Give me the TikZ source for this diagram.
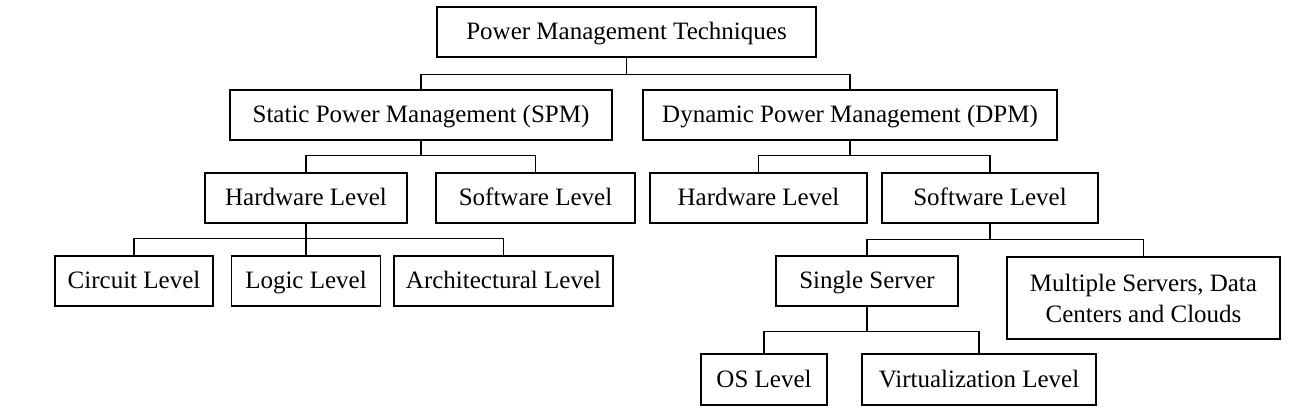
\documentclass[tikz,border=0pt]{standalone}
\usepackage{fontspec}
\setmainfont{Liberation Serif}
\begin{document}
\begin{tikzpicture}[x=1pt,y=-1pt,
    box/.style={draw,line width=1.3pt,inner sep=0pt,minimum height=50pt,
      font=\fontsize{25}{31}\selectfont,align=center},
    onebox/.style={box,text height=19pt,text depth=4pt},
    link/.style={line width=1.3pt}]
  \useasboundingbox (0,0) rectangle (1309,414);

  \node[onebox,minimum width=379pt] (root) at (626.5,32) {Power Management Techniques};

  \node[onebox,minimum width=382pt] (spm) at (421,115) {Static Power Management (SPM)};
  \node[onebox,minimum width=414pt] (dpm) at (850,115) {Dynamic Power Management (DPM)};

  \node[onebox,minimum width=202pt] (spmhw) at (306,198) {Hardware Level};
  \node[onebox,minimum width=199pt] (spmsw) at (535.5,198) {Software Level};
  \node[onebox,minimum width=217pt] (dpmhw) at (758.5,198) {Hardware Level};
  \node[onebox,minimum width=216pt] (dpmsw) at (990,198) {Software Level};

  \node[onebox,minimum width=158pt] (circuit) at (134,281) {Circuit Level};
  \node[onebox,minimum width=149pt] (logic) at (306,281) {Logic Level};
  \node[onebox,minimum width=219pt] (arch) at (503.5,281) {Architectural Level};

  \node[onebox,minimum width=182pt] (single) at (867,281) {Single Server};
  \node[box,minimum width=273pt,minimum height=82pt] (multi) at (1143.5,298)
    {Multiple Servers, Data\\Centers and Clouds};

  \node[onebox,minimum width=126pt,minimum height=51pt] (os) at (764,379.5) {OS Level};
  \node[onebox,minimum width=234pt,minimum height=51pt] (virt) at (979,379.5) {Virtualization Level};

  % root
  \draw[link] (root.south) -- ++(0,17) coordinate (rootj) -| (spm.north);
  \draw[link] (rootj) -| (dpm.north);

  % static branch
  \draw[link] (spm.south) -- ++(0,15) coordinate (spmj) -| (spmhw.north);
  \draw[link] (spmj) -| (spmsw.north);
  \draw[link] (spmhw.south) -- ++(0,15) coordinate (hwj) -| (circuit.north);
  \draw[link] (hwj) -| (logic.north);
  \draw[link] (hwj) -| (arch.north);

  % dynamic branch
  \draw[link] (dpm.south) -- ++(0,15) coordinate (dpmj) -| (dpmhw.north);
  \draw[link] (dpmj) -| (dpmsw.north);
  \draw[link] (dpmsw.south) -- ++(0,16) coordinate (swj) -| (single.north);
  \draw[link] (swj) -| (multi.north);
  \draw[link] (single.south) -- ++(0,25) coordinate (ssj) -| (os.north);
  \draw[link] (ssj) -| (virt.north);
\end{tikzpicture}
\end{document}
